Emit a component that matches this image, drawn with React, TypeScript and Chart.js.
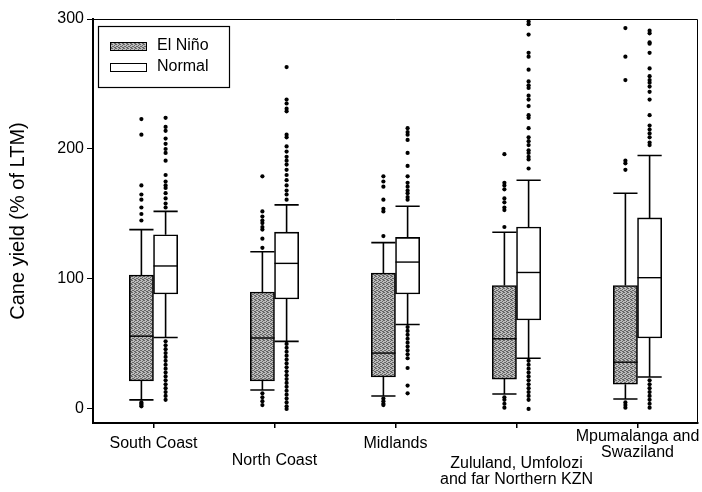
import { useEffect, useRef } from "react";
import { Chart, registerables } from "chart.js";
Chart.register(...registerables);

const categories: string[][] = [
  ["South Coast"],
  ["North Coast"],
  ["Midlands"],
  ["Zululand, Umfolozi", "and far Northern KZN"],
  ["Mpumalanga and", "Swaziland"],
];
const seriesNames = ["El Niño", "Normal"];
const yTicks = [0, 100, 200, 300];

const elNinoMin = [7, 14.6, 10, 11.5, 7.7];
const elNinoQ1 = [21.5, 21.5, 24.6, 23, 19];
const elNinoMedian = [56, 54.6, 43, 54, 36];
const elNinoQ3 = [103, 90, 104.6, 95, 95];
const elNinoMax = [138, 121, 128, 136, 166];
const elNinoOutliers = [
  [223, 211, 172, 165, 161, 155, 150, 145, 5, 4, 3, 2],
  [179, 152, 148, 145, 143, 140, 138, 131, 124, 12, 9, 6, 3],
  [179, 175, 171, 161, 154, 152, 133, 8, 6, 4, 3],
  [196, 174, 172, 169, 162, 159, 155, 153, 140, 9, 7, 4, 1],
  [293, 271, 253, 191, 189, 184, 5, 3, 1],
];

const normalMin = [55, 52, 65, 39, 24.6];
const normalQ1 = [88.5, 84.6, 88.5, 68.5, 54.6];
const normalMedian = [110, 112, 113, 105, 101];
const normalQ3 = [134, 136, 132, 140, 147];
const normalMax = [152, 157, 156, 176, 195];
const normalOutliers = [
  [224, 217, 214, 208, 204, 200, 197, 191, 180, 175, 172, 170, 166, 162, 158, 155,
    52, 49, 46, 43, 40, 37, 34, 31, 28, 25, 22, 19, 16, 13, 10, 7],
  [263, 238, 235, 231, 229, 211, 209, 202, 198, 194, 191, 188, 184, 180, 176, 172, 168, 165, 161,
    50, 47, 44, 41, 38, 35, 32, 29, 26, 23, 20, 17, 14, 11, 8, 5, 2, 0],
  [216, 213, 211, 207, 197, 187, 179, 174, 171, 168, 166, 163, 161,
    63, 60, 57, 54, 51, 48, 45, 42, 39, 31.5, 18, 12],
  [298, 296, 288, 274, 271, 261, 252, 249, 247, 241, 238, 233, 226, 224, 216, 209, 206, 203, 199, 197, 194, 192, 185,
    37, 34, 31, 28, 25, 22, 19, 16, 13, 10, 7, 0],
  [291, 289, 282, 281, 274, 262, 256, 253, 251, 248, 244, 238, 226, 218, 215, 212, 209, 205, 203,
    22, 19, 16, 13, 10, 7, 4, 1],
];

const FONT = "'Liberation Sans', Arial, sans-serif";
const SHIFT = 0.1; // half of a box's share of a category

function makePattern(): CanvasPattern | string {
  const tile = document.createElement("canvas");
  tile.width = 4;
  tile.height = 4;
  const c = tile.getContext("2d");
  if (!c) return "#a0a0a0";
  c.fillStyle = "#bcbcbc";
  c.fillRect(0, 0, 4, 4);
  c.fillStyle = "#666666";
  const dark = [[0, 0], [2, 1], [1, 2], [3, 3], [2, 3], [0, 2], [3, 0]];
  dark.forEach(([x, y]) => c.fillRect(x, y, 1, 1));
  return c.createPattern(tile, "repeat") || "#a0a0a0";
}

const labelOffsets = [21, 38, 21, 41, 14];

const boxPlugin = {
  id: "boxExtras",
  afterDatasetsDraw(chart: any) {
    const ctx = chart.ctx;
    const y = chart.scales.y;
    const stats = [
      [elNinoMin, elNinoQ1, elNinoMedian, elNinoQ3, elNinoMax],
      [normalMin, normalQ1, normalMedian, normalQ3, normalMax],
    ];
    ctx.save();
    ctx.strokeStyle = "#000";
    [0, 1].forEach((d) => {
      const meta = chart.getDatasetMeta(d);
      const [mn, q1, md, q3, mx] = stats[d];
      meta.data.forEach((el: any, i: number) => {
        const x = el.x;
        const w = el.width;
        ctx.lineWidth = 1.6;
        ctx.beginPath();
        ctx.moveTo(x, y.getPixelForValue(q3[i]));
        ctx.lineTo(x, y.getPixelForValue(mx[i]));
        ctx.moveTo(x - w / 2, y.getPixelForValue(mx[i]));
        ctx.lineTo(x + w / 2, y.getPixelForValue(mx[i]));
        ctx.moveTo(x, y.getPixelForValue(q1[i]));
        ctx.lineTo(x, y.getPixelForValue(mn[i]));
        ctx.moveTo(x - w / 2, y.getPixelForValue(mn[i]));
        ctx.lineTo(x + w / 2, y.getPixelForValue(mn[i]));
        ctx.stroke();
        ctx.lineWidth = 1.4;
        ctx.beginPath();
        ctx.moveTo(x - w / 2, y.getPixelForValue(md[i]));
        ctx.lineTo(x + w / 2, y.getPixelForValue(md[i]));
        ctx.stroke();
      });
    });
    ctx.restore();
  },
  afterDraw(chart: any) {
    const ctx = chart.ctx;
    const a = chart.chartArea;
    const xs = chart.scales.x;
    ctx.save();
    ctx.strokeStyle = "#000";
    ctx.lineWidth = 1;
    ctx.beginPath();
    ctx.moveTo(a.left, a.top + 0.5);
    ctx.lineTo(a.right - 0.5, a.top + 0.5);
    ctx.lineTo(a.right - 0.5, a.bottom);
    ctx.stroke();
    ctx.fillStyle = "#000";
    ctx.font = `16px ${FONT}`;
    ctx.textAlign = "center";
    ctx.textBaseline = "middle";
    categories.forEach((lines, i) => {
      const px = xs.getPixelForValue(i);
      lines.forEach((ln, k) => {
        ctx.fillText(ln, px, a.bottom + labelOffsets[i] + k * 16);
      });
    });
    const lx = a.left + 5;
    const ly = a.top + 7;
    ctx.lineWidth = 1.2;
    ctx.fillStyle = "#fff";
    ctx.fillRect(lx, ly, 131, 61);
    ctx.strokeRect(lx + 0.5, ly + 0.5, 131, 61);
    ctx.textAlign = "left";
    ctx.font = `16px ${FONT}`;
    seriesNames.forEach((name, k) => {
      const ds = chart.data.datasets[k];
      const sy = ly + 16 + k * 21;
      ctx.fillStyle = ds.backgroundColor;
      ctx.fillRect(lx + 12, sy, 36, 8);
      ctx.lineWidth = 1;
      ctx.strokeRect(lx + 12.5, sy + 0.5, 36, 8);
      ctx.fillStyle = "#000";
      ctx.fillText(name, lx + 59, sy + 4);
    });
    ctx.restore();
  },
};

export default function App() {
  const ref = useRef<HTMLCanvasElement | null>(null);
  useEffect(() => {
    if (!ref.current) return;
    const pattern = makePattern();
    const boxData = (q1: number[], q3: number[], shift: number) =>
      q1.map((q, i) => ({ x: i + shift, y: [q, q3[i]] }));
    const outlierData = (arr: number[][], shift: number) =>
      arr.flatMap((vals, i) => vals.map((v) => ({ x: i + shift, y: v })));
    const chart = new Chart(ref.current, {
      type: "bar",
      data: {
        datasets: [
          {
            label: seriesNames[0],
            data: boxData(elNinoQ1, elNinoQ3, -SHIFT),
            backgroundColor: pattern as any,
            borderColor: "#000",
            borderWidth: 1.6,
            borderSkipped: false,
            grouped: false,
            categoryPercentage: 1,
            barPercentage: 1,
          },
          {
            label: seriesNames[1],
            data: boxData(normalQ1, normalQ3, SHIFT),
            backgroundColor: "#fff",
            borderColor: "#000",
            borderWidth: 1.6,
            borderSkipped: false,
            grouped: false,
            categoryPercentage: 1,
            barPercentage: 1,
          },
          {
            type: "scatter",
            label: seriesNames[0] + " outliers",
            data: outlierData(elNinoOutliers, -SHIFT),
            backgroundColor: "#000",
            borderWidth: 0,
            pointRadius: 2.1,
          } as any,
          {
            type: "scatter",
            label: seriesNames[1] + " outliers",
            data: outlierData(normalOutliers, SHIFT),
            backgroundColor: "#000",
            borderWidth: 0,
            pointRadius: 2.1,
          } as any,
        ],
      },
      options: {
        animation: false,
        responsive: true,
        maintainAspectRatio: false,
        layout: { padding: { left: 0, top: 19, right: 4, bottom: 0 } },
        plugins: { legend: { display: false }, tooltip: { enabled: false } },
        scales: {
          x: {
            type: "linear",
            offset: false,
            min: -0.5,
            max: categories.length - 0.5,
            afterBuildTicks: (s: any) => {
              s.ticks = categories.map((_, i) => ({ value: i }));
            },
            grid: { display: true, drawOnChartArea: false, offset: false, tickLength: 5, color: "#000", lineWidth: 1.5 },
            border: { display: true, color: "#000", width: 2 },
            ticks: { display: false },
            afterFit: (s: any) => {
              s.height = 69;
            },
          },
          y: {
            min: -10.8,
            max: 300,
            afterBuildTicks: (s: any) => {
              s.ticks = yTicks.map((v) => ({ value: v }));
            },
            grid: { drawOnChartArea: false, tickLength: 6, color: "#000", lineWidth: 1 },
            border: { display: true, color: "#000", width: 2 },
            ticks: { color: "#000", font: { family: FONT, size: 16 }, padding: 3 },
            title: {
              display: true,
              text: "Cane yield (% of LTM)",
              color: "#000",
              font: { family: FONT, size: 20 },
              padding: { top: 6, bottom: 0 },
            },
            afterFit: (s: any) => {
              s.width = 93;
            },
          },
        },
      },
      plugins: [boxPlugin],
    } as any);
    return () => chart.destroy();
  }, []);
  return (
    <div style={{ position: "absolute", left: 0, top: 0, width: 702, height: 492, background: "#fff" }}>
      <canvas ref={ref} />
    </div>
  );
}
